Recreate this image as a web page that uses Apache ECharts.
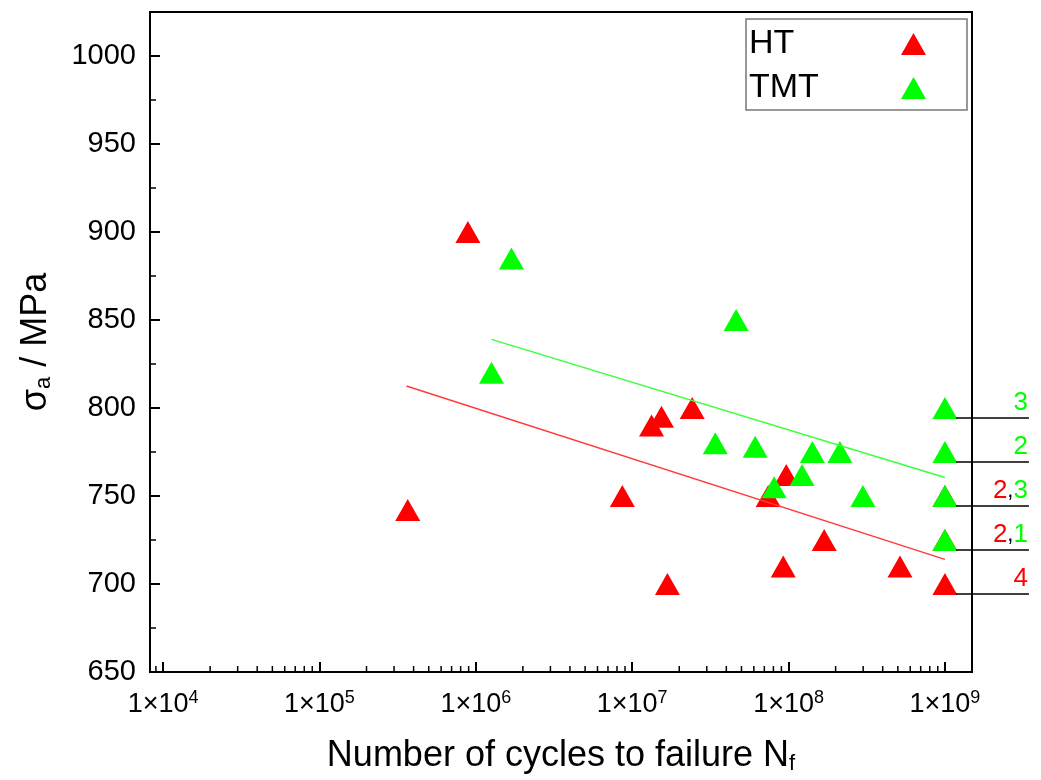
<!DOCTYPE html>
<html>
<head>
<meta charset="utf-8">
<title>S-N curve HT / TMT</title>
<script src="https://cdn.jsdelivr.net/npm/echarts@6/dist/echarts.min.js"></script>
<style>
    html, body { margin: 0; padding: 0; background: #fff; }
    #chart { width: 1041px; height: 780px; }
</style>
</head>
<body>
<div id="chart"></div>
<script>
    // values
    var htCycles = [3.67e5, 8.9e5, 8.65e6, 1.33e7, 1.54e7, 1.68e7, 2.42e7, 7.41e7, 9.25e7, 9.67e7, 1.69e8, 5.16e8, 1e9, 1e9, 1e9];
    var htStress = [742, 900, 750, 790, 795, 700, 800, 750, 710, 762, 725, 710, 750, 725, 700];
    var tmtCycles = [1.26e6, 1.69e6, 3.4e7, 4.62e7, 6.12e7, 8.09e7, 1.22e8, 1.42e8, 2.13e8, 2.99e8, 1e9, 1e9, 1e9, 1e9];
    var tmtStress = [820, 885, 780, 850, 778, 755, 762, 775, 775, 750, 800, 775, 750, 725];

    var htFitCycles = [3.6e5, 1e9];
    var htFitStress = [812.5, 714];
    var tmtFitCycles = [1.26e6, 1e9];
    var tmtFitStress = [839, 760.5];

    // run-outs at 1e9: how many specimens of each condition
    var runoutStress = [800, 775, 750, 725, 700];
    var runoutHT = [0, 0, 2, 2, 4];
    var runoutTMT = [3, 2, 3, 1, 0];

    var xMin = 8250, xMax = 1.49e9;
    var yMin = 650, yMax = 1025;
    var yMinorTicks = [675, 725, 775, 825, 875, 925, 975];

    var font = "'Liberation Sans', Arial, sans-serif";
    var red = "#ff0000", green = "#00ff00";

    var xMinorTicks = [];
    for (var e = 3; e <= 8; e++) {
        for (var m = 2; m <= 9; m++) {
            var v = m * Math.pow(10, e);
            if (v > xMin && v < xMax) xMinorTicks.push(v);
        }
    }

    function pairs(xs, ys) {
        return xs.map(function (x, i) { return [x, ys[i]]; });
    }

    function powLabel(v) {
        var e = Math.round(Math.log(v) / Math.LN10);
        if (Math.abs(v / Math.pow(10, e) - 1) > 1e-6) return "";
        return "{b|1\u00d710}{s|" + e + "}";
    }

    var chart = echarts.init(document.getElementById("chart"));
    chart.setOption({
        animation: false,
        backgroundColor: "#fff",
        textStyle: { fontFamily: font },
        grid: { left: 150, right: 69, top: 12, bottom: 105, show: true, borderColor: "#000", borderWidth: 2 },
        legend: {
            data: ["HT", "TMT"],
            orient: "vertical",
            right: 74,
            top: 19,
            align: "right",
            icon: "triangle",
            itemWidth: 25,
            itemHeight: 22,
            itemGap: 10,
            padding: [8, 41, 5, 3],
            borderColor: "#777",
            borderWidth: 1.5,
            formatter: function (name) { return "{t|" + name + "}"; },
            textStyle: {
                color: "#000",
                rich: { t: { width: 147, align: "left", fontSize: 34, fontFamily: font, color: "#000" } }
            }
        },
        xAxis: {
            type: "log",
            logBase: 10,
            min: xMin,
            max: xMax,
            splitNumber: 5,
            splitLine: { show: false },
            axisLine: { lineStyle: { color: "#000", width: 2 } },
            axisTick: { inside: true, length: 10, lineStyle: { color: "#000", width: 2 } },
            axisLabel: {
                margin: 17,
                showMinLabel: false,
                showMaxLabel: false,
                formatter: powLabel,
                rich: {
                    b: { fontSize: 27, fontFamily: font, color: "#000" },
                    s: { fontSize: 18, fontFamily: font, color: "#000", padding: [0, 0, 14, 0] }
                }
            },
            name: "{n|Number of cycles to failure N}{f|f}",
            nameLocation: "middle",
            nameGap: 65,
            nameTextStyle: {
                rich: {
                    n: { fontSize: 36, fontFamily: font, color: "#000" },
                    f: { fontSize: 22, fontFamily: font, color: "#000", padding: [16, 0, 0, 0] }
                }
            }
        },
        yAxis: {
            type: "value",
            min: yMin,
            max: yMax,
            interval: 50,
            splitLine: { show: false },
            axisLine: { lineStyle: { color: "#000", width: 2 } },
            axisTick: { inside: true, length: 10, lineStyle: { color: "#000", width: 2 } },
            axisLabel: {
                margin: 14,
                fontSize: 29,
                color: "#000",
                fontFamily: font,
                showMaxLabel: false,
                formatter: function (v) { return String(v); }
            },
            name: "{n|\u03c3}{a|a}{n| / MPa}",
            nameLocation: "middle",
            nameGap: 95,
            nameTextStyle: {
                rich: {
                    n: { fontSize: 36, fontFamily: font, color: "#000" },
                    a: { fontSize: 22, fontFamily: font, color: "#000", padding: [16, 0, 0, 0] }
                }
            }
        },
        series: [
            {
                name: "HT fit",
                type: "line",
                data: pairs(htFitCycles, htFitStress),
                showSymbol: false,
                lineStyle: { color: "#ff3b3b", width: 1.5 },
                silent: true
            },
            {
                name: "TMT fit",
                type: "line",
                data: pairs(tmtFitCycles, tmtFitStress),
                showSymbol: false,
                lineStyle: { color: "#3bff3b", width: 1.5 },
                silent: true
            },
            {
                name: "HT",
                type: "scatter",
                symbol: "triangle",
                symbolSize: [25, 22],
                itemStyle: { color: red, opacity: 1 },
                data: pairs(htCycles, htStress)
            },
            {
                name: "TMT",
                type: "scatter",
                symbol: "triangle",
                symbolSize: [25, 22],
                itemStyle: { color: green, opacity: 1 },
                data: pairs(tmtCycles, tmtStress)
            },
            {
                // minor ticks of the log axis (2..9 per decade)
                type: "custom",
                silent: true,
                clip: false,
                data: xMinorTicks.map(function (v) { return [v, yMin]; }),
                renderItem: function (params, api) {
                    var p = api.coord([api.value(0), api.value(1)]);
                    return {
                        type: "line",
                        shape: { x1: p[0], y1: p[1], x2: p[0], y2: p[1] - 6 },
                        style: { stroke: "#000", lineWidth: 1.5 }
                    };
                }
            },
            {
                type: "custom",
                silent: true,
                clip: false,
                data: yMinorTicks.map(function (s) { return [xMin, s]; }),
                renderItem: function (params, api) {
                    var p = api.coord([api.value(0), api.value(1)]);
                    return {
                        type: "line",
                        shape: { x1: p[0], y1: p[1], x2: p[0] + 6, y2: p[1] },
                        style: { stroke: "#000", lineWidth: 1.5 }
                    };
                }
            },
            {
                // run-out marks with specimen counts
                type: "custom",
                silent: true,
                clip: false,
                z: 5,
                data: runoutStress.map(function (s, i) { return [1e9, s, runoutHT[i], runoutTMT[i]]; }),
                renderItem: function (params, api) {
                    var p = api.coord([api.value(0), api.value(1)]);
                    var y = p[1] + 10;
                    var ht = api.value(2), tmt = api.value(3);
                    var parts = [];
                    if (ht) parts.push("{r|" + ht + "}");
                    if (tmt) parts.push("{g|" + tmt + "}");
                    return {
                        type: "group",
                        children: [
                            {
                                type: "line",
                                shape: { x1: p[0] + 11, y1: y, x2: p[0] + 84, y2: y },
                                style: { stroke: "#000", lineWidth: 1.5 }
                            },
                            {
                                type: "text",
                                style: {
                                    x: p[0] + 83,
                                    y: y - 2,
                                    text: parts.join("{k|,}"),
                                    align: "right",
                                    verticalAlign: "bottom",
                                    rich: {
                                        r: { fontSize: 26, fontFamily: font, fill: red, color: red },
                                        g: { fontSize: 26, fontFamily: font, fill: green, color: green },
                                        k: { fontSize: 22, fontFamily: font, fill: "#000", color: "#000" }
                                    }
                                }
                            }
                        ]
                    };
                }
            }
        ]
    });
</script>
</body>
</html>
